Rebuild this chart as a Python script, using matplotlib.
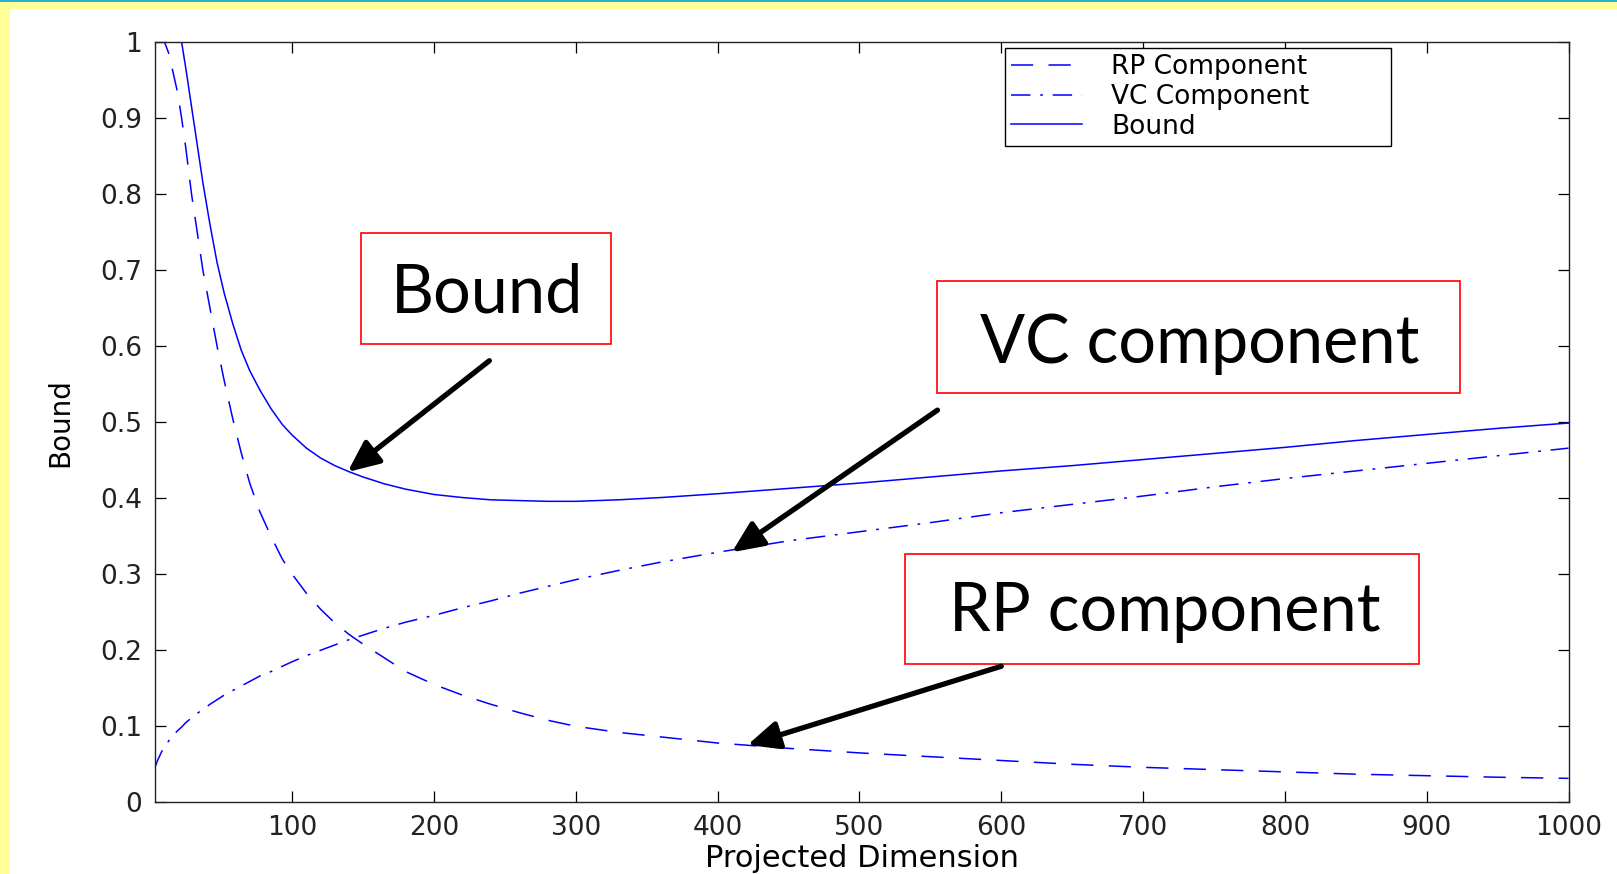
import numpy as np
import matplotlib
matplotlib.use("Agg")
import matplotlib.pyplot as plt
from matplotlib.patches import Rectangle

# values
dims = [3, 5, 8, 10, 13, 16, 19, 22, 25, 29, 33, 37, 42, 47, 52, 58, 64, 70, 77, 85,
        93, 100, 110, 120, 130, 140, 150, 165, 180, 200, 220, 240, 260, 280, 300,
        330, 360, 400, 450, 500, 550, 600, 650, 700, 750, 800, 850, 900, 950, 1000]
rp_comp = [1.0, 1.0, 1.0, 1.0, 0.985, 0.96, 0.935, 0.90, 0.86, 0.80, 0.75, 0.70,
           0.65, 0.60, 0.555, 0.505, 0.46, 0.42, 0.383, 0.35, 0.32, 0.30, 0.275,
           0.254, 0.236, 0.221, 0.208, 0.19, 0.172, 0.155, 0.141, 0.129, 0.118,
           0.108, 0.100, 0.092, 0.086, 0.078, 0.071, 0.065, 0.060, 0.055, 0.050,
           0.046, 0.043, 0.040, 0.037, 0.035, 0.033, 0.0315]
vc_comp = [0.045, 0.055, 0.067, 0.073, 0.081, 0.088, 0.094, 0.099, 0.105, 0.111,
           0.117, 0.122, 0.129, 0.135, 0.141, 0.147, 0.153, 0.159, 0.166, 0.172,
           0.179, 0.185, 0.193, 0.200, 0.207, 0.214, 0.220, 0.229, 0.237, 0.246,
           0.256, 0.265, 0.275, 0.284, 0.293, 0.305, 0.316, 0.329, 0.344, 0.356,
           0.368, 0.381, 0.392, 0.403, 0.415, 0.426, 0.436, 0.446, 0.456, 0.466]
bound = [1.045, 1.055, 1.067, 1.073, 1.065, 1.048, 1.027, 1.0, 0.965, 0.915, 0.865,
         0.815, 0.76, 0.71, 0.67, 0.63, 0.595, 0.568, 0.543, 0.518, 0.497, 0.483,
         0.466, 0.453, 0.443, 0.435, 0.428, 0.419, 0.412, 0.405, 0.401, 0.398,
         0.397, 0.396, 0.396, 0.398, 0.401, 0.406, 0.413, 0.420, 0.428, 0.436,
         0.443, 0.451, 0.459, 0.467, 0.476, 0.484, 0.492, 0.499]
legend_labels = ["RP Component", "VC Component", "Bound"]
xticks = [100, 200, 300, 400, 500, 600, 700, 800, 900, 1000]
yticks = [0, 0.1, 0.2, 0.3, 0.4, 0.5, 0.6, 0.7, 0.8, 0.9, 1]
ytick_labels = ["0", "0.1", "0.2", "0.3", "0.4", "0.5", "0.6", "0.7", "0.8", "0.9", "1"]

# callouts: text, box (axes fraction), text anchor (axes fraction), arrow tail -> tip (data)
callouts = [
    ("Bound", (0.1459, 0.6025, 0.1765, 0.1465), (0.235, 0.6451), (239, 0.581), (139, 0.4346)),
    ("VC component", (0.5536, 0.5386, 0.3697, 0.1467), (0.739, 0.578), (555, 0.516), (410, 0.329)),
    ("RP component", (0.5310, 0.1820, 0.3633, 0.1451), (0.7142, 0.2254), (600, 0.179), (421, 0.0754)),
]

plt.rcParams['font.family'] = ['DejaVu Sans']
plt.rcParams['lines.scale_dashes'] = False

fig = plt.figure(figsize=(16.17, 8.74), dpi=100, facecolor='#FFFF99')
# white slide panel and thin teal rule on top
fig.patches.append(Rectangle((10 / 1617, 0), 1, (874 - 9) / 874, transform=fig.transFigure,
                             facecolor='white', edgecolor='none', zorder=-5))
fig.patches.append(Rectangle((0, 1 - 2 / 874), 1, 2 / 874, transform=fig.transFigure,
                             facecolor='#22B2CC', edgecolor='none', zorder=-5))

ax = fig.add_axes([0.09567, 0.08204, 0.87434, 0.86957])
ax.set_zorder(1)
ax.set_facecolor('white')

blue = '#0000FF'
ax.plot(dims, rp_comp, color=blue, lw=1.1, linestyle=(0, (16, 11)), label=legend_labels[0])
ax.plot(dims, vc_comp, color=blue, lw=1.1, linestyle=(0, (14, 7, 2, 7)), label=legend_labels[1])
ax.plot(dims, bound, color=blue, lw=1.1, label=legend_labels[2])

ax.set_xlim(3, 1000)
ax.set_ylim(0, 1)
ax.set_xticks(xticks)
ax.set_yticks(yticks)
ax.set_yticklabels(ytick_labels)
ax.tick_params(direction='in', top=True, right=True, length=8, width=0.9,
               labelsize=19, pad=9, labelcolor='#222222')
for sp in ax.spines.values():
    sp.set_linewidth(1.0)
    sp.set_color('#222222')

ax.set_xlabel('Projected Dimension', fontsize=22, va='baseline')
ax.xaxis.set_label_coords(0.5, -0.0851)
ax.set_ylabel('Bound', fontsize=20, va='center')
ax.yaxis.set_label_coords(-0.067, 0.5)

leg = ax.legend(loc='upper left', bbox_to_anchor=(0.6014, 0.870, 0.2731, 0.1225),
                mode='expand', borderaxespad=0, fontsize=19, handlelength=2.7,
                handletextpad=1.1, labelspacing=0.15, borderpad=0.22,
                fancybox=False, framealpha=1, edgecolor='black')
leg.get_frame().set_linewidth(1.0)

for text, box, tpos, tail, tip in callouts:
    ax.add_patch(Rectangle(box[:2], box[2], box[3], transform=ax.transAxes,
                           facecolor='white', edgecolor='#FF0000', lw=1.2, zorder=4))
    ax.text(tpos[0], tpos[1], text, transform=ax.transAxes, ha='center', va='baseline',
            fontsize=48, family='Lato', color='black', zorder=5)
    ax.annotate('', xy=tip, xytext=tail, zorder=6,
                arrowprops=dict(arrowstyle='-|>,head_length=19,head_width=8.5',
                                mutation_scale=1, lw=3.8, color='black',
                                shrinkA=0, shrinkB=0))

fig.savefig('out.png', dpi=100, facecolor=fig.get_facecolor())
